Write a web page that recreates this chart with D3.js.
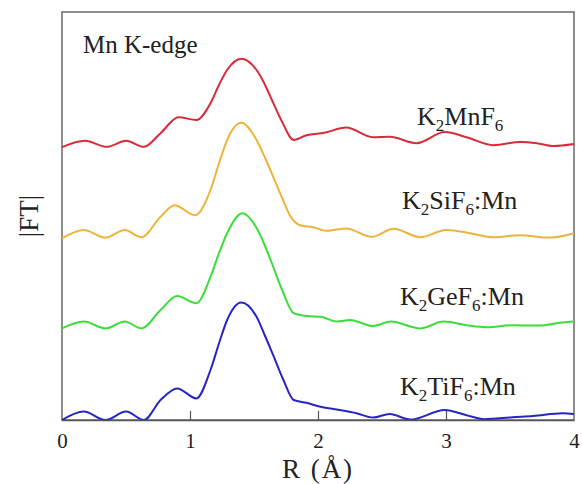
<!DOCTYPE html>
<html>
<head>
<meta charset="utf-8">
<script src="https://cdn.jsdelivr.net/npm/d3@7"></script>
<style>
  html, body { margin: 0; padding: 0; background: #fff; }
  svg { display: block; }
  svg text { font-family: 'Liberation Serif', 'Times New Roman', 'DejaVu Serif', serif; }
</style>
</head>
<body>
<svg id="chart" width="582" height="484"></svg>
<script>
// ---- data (R in Å, |FT| in normalized arbitrary units, curves vertically offset as in the figure)
const xTicks = [0, 1, 2, 3, 4];
const panelLabel = "Mn K-edge";
const xLabel = "R (\u00C5)";
const yLabel = "|FT|";

const seriesNames = ["K2MnF6", "K2SiF6:Mn", "K2GeF6:Mn", "K2TiF6:Mn"];
const seriesColors = ["#d82a38", "#ebb43c", "#3cdc3c", "#2626c2"];

const redR = [0, 0.18, 0.35, 0.5, 0.64, 0.77, 0.91, 1.05, 1.16, 1.23, 1.29, 1.40, 1.52, 1.58, 1.64, 1.72, 1.81, 1.91, 2.05, 2.22, 2.43, 2.56, 2.77, 2.99, 3.16, 3.37, 3.58, 3.71, 3.84, 4.0];
const redV = [0.682, 0.698, 0.683, 0.698, 0.683, 0.717, 0.757, 0.750, 0.792, 0.840, 0.875, 0.903, 0.875, 0.842, 0.800, 0.745, 0.700, 0.712, 0.718, 0.731, 0.707, 0.708, 0.692, 0.720, 0.707, 0.687, 0.695, 0.692, 0.685, 0.690];

const orangeR = [0, 0.17, 0.34, 0.49, 0.62, 0.77, 0.88, 1.04, 1.16, 1.23, 1.29, 1.40, 1.52, 1.58, 1.65, 1.72, 1.78, 1.86, 1.96, 2.07, 2.22, 2.42, 2.59, 2.80, 3.0, 3.19, 3.37, 3.58, 3.81, 4.0];
const orangeV = [0.454, 0.475, 0.456, 0.475, 0.457, 0.508, 0.537, 0.512, 0.575, 0.645, 0.700, 0.743, 0.700, 0.660, 0.608, 0.555, 0.512, 0.487, 0.482, 0.473, 0.479, 0.458, 0.478, 0.457, 0.475, 0.467, 0.457, 0.462, 0.456, 0.467];

const greenR = [0, 0.17, 0.34, 0.49, 0.62, 0.77, 0.90, 1.05, 1.16, 1.23, 1.29, 1.41, 1.52, 1.58, 1.63, 1.72, 1.81, 1.91, 2.02, 2.15, 2.25, 2.43, 2.57, 2.80, 2.98, 3.16, 3.32, 3.52, 3.73, 3.89, 4.0];
const greenV = [0.229, 0.246, 0.229, 0.246, 0.229, 0.275, 0.310, 0.292, 0.358, 0.420, 0.467, 0.517, 0.480, 0.440, 0.400, 0.325, 0.267, 0.260, 0.258, 0.246, 0.250, 0.235, 0.246, 0.229, 0.246, 0.237, 0.232, 0.237, 0.236, 0.243, 0.246];

const blueR = [0, 0.17, 0.34, 0.5, 0.64, 0.77, 0.90, 1.05, 1.16, 1.23, 1.29, 1.40, 1.52, 1.58, 1.65, 1.73, 1.81, 1.91, 2.02, 2.17, 2.30, 2.43, 2.56, 2.72, 2.99, 3.16, 3.30, 3.52, 3.68, 3.91, 4.0];
const blueV = [0.0, 0.021, 0.0, 0.021, 0.0, 0.050, 0.079, 0.054, 0.125, 0.195, 0.250, 0.294, 0.258, 0.215, 0.162, 0.100, 0.050, 0.043, 0.033, 0.025, 0.017, 0.006, 0.015, 0.001, 0.025, 0.012, 0.002, 0.007, 0.010, 0.017, 0.015];

const seriesR = [redR, orangeR, greenR, blueR];
const seriesV = [redV, orangeV, greenV, blueV];

// ---- layout
const FONT = "'Liberation Serif', 'Times New Roman', serif";
const svg = d3.select("#chart");
const margin = { left: 62, right: 8, top: 12, bottom: 64 };
const W = 582, H = 484;
const x = d3.scaleLinear().domain([0, 4]).range([margin.left, W - margin.right]);
const y = d3.scaleLinear().domain([0, 1.02]).range([H - margin.bottom, margin.top]);

// frame
svg.append("rect")
  .attr("x", x(0)).attr("y", y(1.02))
  .attr("width", x(4) - x(0)).attr("height", y(0) - y(1.02))
  .attr("fill", "none").attr("stroke", "#6a6a6a").attr("stroke-width", 1.5);

// curves
const line = d3.line().curve(d3.curveMonotoneX);
seriesR.forEach((rs, i) => {
  const pts = rs.map((r, j) => [x(r), y(seriesV[i][j])]);
  svg.append("path")
    .attr("d", line(pts))
    .attr("fill", "none")
    .attr("stroke", seriesColors[i])
    .attr("stroke-width", 2)
    .attr("stroke-linejoin", "round");
});

// bottom axis with inward ticks
const xAxis = d3.axisBottom(x).tickValues(xTicks).tickSizeInner(-9).tickSizeOuter(0).tickPadding(13).tickFormat(d3.format("d"));
const gx = svg.append("g").attr("transform", `translate(0,${y(0)})`).call(xAxis)
  .attr("font-family", FONT).attr("font-size", 21);
gx.select(".domain").attr("stroke", "#555").attr("stroke-width", 1.5);
gx.selectAll(".tick line").attr("stroke", "#555").attr("stroke-width", 1.2);
gx.selectAll(".tick text").attr("fill", "#222");
gx.selectAll(".tick").filter(d => d === 0 || d === 4).select("line").remove();

// axis labels
svg.append("text")
  .attr("x", (x(0) + x(4)) / 2).attr("y", 478)
  .attr("text-anchor", "middle")
  .attr("font-family", FONT)
  .attr("font-size", 27).attr("fill", "#222")
  .attr("letter-spacing", 2)
  .text(xLabel);

svg.append("text")
  .attr("transform", `translate(38, ${y(0.51)}) rotate(-90)`)
  .attr("text-anchor", "middle")
  .attr("font-family", FONT)
  .attr("font-size", 27).attr("fill", "#222")
  .text(yLabel);

// panel label
svg.append("text")
  .attr("x", 83).attr("y", 53)
  .attr("font-family", FONT)
  .attr("font-size", 25).attr("fill", "#222")
  .text(panelLabel);

// series labels with subscripts
const labelPos = [
  { x: 417, y: 125 },
  { x: 402, y: 209 },
  { x: 400, y: 305 },
  { x: 400, y: 395 }
];
seriesNames.forEach((name, i) => {
  const t = svg.append("text")
    .attr("x", labelPos[i].x).attr("y", labelPos[i].y)
    .attr("font-family", FONT)
    .attr("font-size", 26).attr("fill", "#222");
  const parts = name.match(/[0-9]+|[^0-9]+/g);
  parts.forEach((p, k) => {
    if (/^[0-9]+$/.test(p)) {
      t.append("tspan").attr("font-size", 17).attr("dy", 6).text(p);
    } else {
      const ts = t.append("tspan").text(p);
      if (k > 0) ts.attr("dy", -6);
    }
  });
});
</script>
</body>
</html>
